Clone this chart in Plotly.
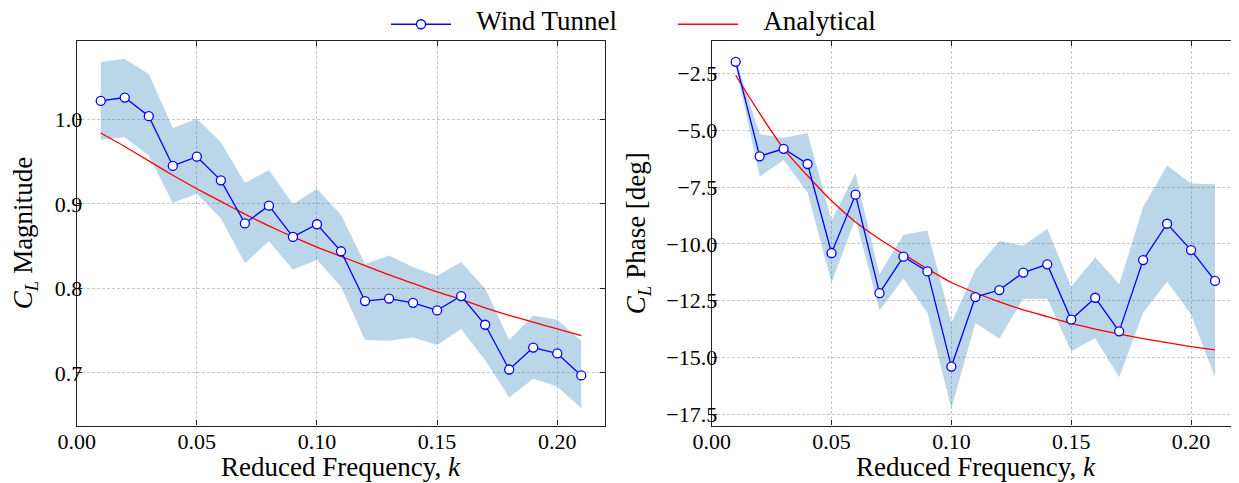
import plotly.graph_objects as go

k = [0.01, 0.02, 0.03, 0.04, 0.05, 0.06, 0.07, 0.08, 0.09, 0.10, 0.11,
     0.12, 0.13, 0.14, 0.15, 0.16, 0.17, 0.18, 0.19, 0.20, 0.21]

mag_wt = [1.022, 1.026, 1.004, 0.945, 0.956, 0.928, 0.877, 0.898, 0.861, 0.876, 0.844,
          0.785, 0.788, 0.783, 0.774, 0.791, 0.757, 0.704, 0.730, 0.723, 0.697]
mag_hi = [1.068, 1.072, 1.054, 0.990, 1.001, 0.973, 0.925, 0.940, 0.900, 0.918, 0.887,
          0.829, 0.839, 0.825, 0.815, 0.831, 0.800, 0.739, 0.768, 0.763, 0.738]
mag_lo = [0.976, 0.979, 0.957, 0.901, 0.912, 0.883, 0.830, 0.856, 0.822, 0.834, 0.802,
          0.739, 0.738, 0.742, 0.733, 0.752, 0.715, 0.671, 0.693, 0.684, 0.658]
mag_an = [0.984, 0.968, 0.951, 0.934, 0.918, 0.903, 0.888, 0.874, 0.861, 0.849, 0.838,
          0.827, 0.816, 0.806, 0.796, 0.787, 0.777, 0.768, 0.760, 0.752, 0.744]

ph_wt = [-1.98, -6.14, -5.81, -6.48, -10.40, -7.83, -12.17, -10.56, -11.21, -15.40, -12.34,
         -12.03, -11.26, -10.90, -13.33, -12.37, -13.85, -10.71, -9.11, -10.27, -11.63]
ph_hi = [-1.85, -5.16, -5.34, -5.12, -8.96, -6.89, -11.33, -9.60, -9.41, -13.48, -11.14,
         -9.87, -10.07, -9.33, -11.88, -10.59, -11.78, -8.37, -6.55, -7.34, -7.37]
ph_lo = [-2.15, -7.04, -6.30, -7.74, -11.70, -8.89, -12.93, -11.52, -13.03, -17.25, -13.48,
         -14.17, -12.41, -12.41, -14.73, -14.14, -15.87, -13.03, -11.66, -13.11, -15.87]
ph_an = [-2.57, -4.25, -5.80, -7.00, -8.10, -9.03, -9.78, -10.45, -11.10, -11.70, -12.15,
         -12.55, -12.90, -13.20, -13.50, -13.75, -13.97, -14.17, -14.35, -14.52, -14.67]

x_ticks = [0.00, 0.05, 0.10, 0.15, 0.20]
mag_ticks = [0.7, 0.8, 0.9, 1.0]
ph_ticks = [-2.5, -5.0, -7.5, -10.0, -12.5, -15.0, -17.5]

FONT = "Liberation Serif"
BAND = "rgba(31,119,180,0.3)"
NB = "\u00a0\u00a0\u00a0"


def leg_name(s):
    # large legend text inside a compact legend row
    return '<span style="font-size:27px">' + NB + s + "</span>"


fig = go.Figure()

def add_panel(xa, ya, wt, hi, lo, an, show):
    fig.add_trace(go.Scatter(x=k, y=hi, mode="lines", line=dict(width=0),
                             showlegend=False, hoverinfo="skip", xaxis=xa, yaxis=ya))
    fig.add_trace(go.Scatter(x=k, y=lo, mode="lines", line=dict(width=0),
                             fill="tonexty", fillcolor=BAND,
                             showlegend=False, hoverinfo="skip", xaxis=xa, yaxis=ya))
    fig.add_trace(go.Scatter(x=k, y=an, mode="lines", name="Analytical",
                             line=dict(color="#ff0000", width=1.3, shape="spline", smoothing=0.6),
                             showlegend=False, xaxis=xa, yaxis=ya))
    fig.add_trace(go.Scatter(x=k, y=wt, mode="lines+markers", name=leg_name("Wind Tunnel"),
                             line=dict(color="#0000ff", width=1.3),
                             marker=dict(symbol="circle", size=9, color="white",
                                         line=dict(color="#0000ff", width=1.3)),
                             showlegend=show, legendrank=1, xaxis=xa, yaxis=ya))
    if show:
        fig.add_trace(go.Scatter(x=[None], y=[None], mode="lines", name=leg_name("Analytical"),
                                 line=dict(color="#ff0000", width=1.3),
                                 showlegend=True, legendrank=2, xaxis=xa, yaxis=ya))

add_panel("x", "y", mag_wt, mag_hi, mag_lo, mag_an, True)
add_panel("x2", "y2", ph_wt, ph_hi, ph_lo, ph_an, False)

# page body has an 8px margin: figure pixel = screen pixel - 8
OFF = 8
W, H = 1239 - OFF, 483 - OFF

def px(sx):
    return (sx - OFF) / W

def py(sy):
    return 1 - (sy - OFF) / H

ydom = [py(425.6), py(40.7)]
xdom1 = [px(76.7), px(605.3)]
xdom2 = [px(711.7), 1.0]

axis_common = dict(
    showline=True, linecolor="#222222", linewidth=1.3, mirror="ticks",
    ticks="inside", ticklen=5, tickwidth=1.2, tickcolor="#222222",
    showgrid=True, gridcolor="#c8c8c8", gridwidth=0.8, griddash="3px,2px",
    zeroline=False, automargin=False,
    tickfont=dict(family=FONT, size=22, color="black"),
)

xaxis_common = dict(axis_common, range=[0, 0.22], tickvals=x_ticks, tickformat=".2f",
                    ticklabelstandoff=-4)

TFONT = dict(family=FONT, size=27, color="black")

fig.update_layout(
    width=W, height=H,
    margin=dict(l=0, r=0, t=0, b=0),
    paper_bgcolor="white", plot_bgcolor="white",
    font=dict(family=FONT, color="black"),
    showlegend=True,
    legend=dict(orientation="h", x=px(386), xanchor="left", y=1.0, yanchor="top",
                font=dict(family=FONT, size=15, color="black"),
                itemwidth=60, entrywidth=212, entrywidthmode="pixels",
                bgcolor="rgba(0,0,0,0)", traceorder="normal"),
    xaxis=dict(xaxis_common, domain=xdom1, anchor="y"),
    xaxis2=dict(xaxis_common, domain=xdom2, anchor="y2"),
    yaxis=dict(axis_common, domain=ydom, anchor="x", range=[0.6376, 1.0933],
               tickvals=mag_ticks, tickformat=".1f", ticklabelstandoff=-11),
    yaxis2=dict(axis_common, domain=ydom, anchor="x2", range=[-18.0, -1.05],
                tickvals=ph_ticks, tickformat=".1f", ticklabelstandoff=-11),
)

ycen = (ydom[0] + ydom[1]) / 2
annots = [
    dict(text="Reduced Frequency, <i>k</i>", x=(xdom1[0] + xdom1[1]) / 2, y=py(467),
         xanchor="center", yanchor="middle"),
    dict(text="Reduced Frequency, <i>k</i>", x=(px(711.7) + px(1239.7)) / 2, y=py(467),
         xanchor="center", yanchor="middle"),
    dict(text="<i>C</i><sub><i>L</i></sub> Magnitude", x=px(25), y=ycen,
         xanchor="center", yanchor="middle", textangle=-90),
    dict(text="<i>C</i><sub><i>L</i></sub> Phase [deg]", x=px(638), y=ycen,
         xanchor="center", yanchor="middle", textangle=-90),
]
for a in annots:
    fig.add_annotation(xref="paper", yref="paper", showarrow=False, font=TFONT, **a)

fig.write_html("out.html")
